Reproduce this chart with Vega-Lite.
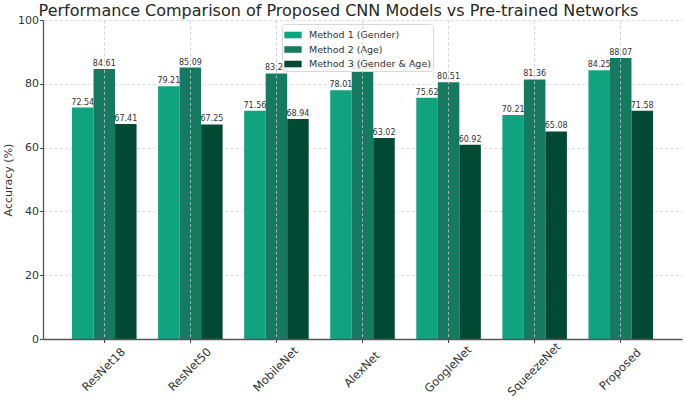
{
  "$schema": "https://vega.github.io/schema/vega-lite/v6.json",
  "autosize": {"type": "none"},
  "padding": {"left": 43, "top": 20, "right": 3, "bottom": 63},
  "width": 639,
  "height": 319,
  "background": "white",
  "title": {
    "text": "Performance Comparison of Proposed CNN Models vs Pre-trained Networks",
    "font": "DejaVu Sans",
    "fontSize": 16,
    "fontWeight": "normal",
    "color": "#262626",
    "anchor": "middle",
    "frame": "group",
    "offset": 1,
    "dx": -24,
    "dy": 6
  },
  "data": {
    "values": [
      {"model": "ResNet18", "method": "Method 1 (Gender)", "acc": 72.54},
      {"model": "ResNet18", "method": "Method 2 (Age)", "acc": 84.61},
      {"model": "ResNet18", "method": "Method 3 (Gender & Age)", "acc": 67.41},
      {"model": "ResNet50", "method": "Method 1 (Gender)", "acc": 79.21},
      {"model": "ResNet50", "method": "Method 2 (Age)", "acc": 85.09},
      {"model": "ResNet50", "method": "Method 3 (Gender & Age)", "acc": 67.25},
      {"model": "MobileNet", "method": "Method 1 (Gender)", "acc": 71.56},
      {"model": "MobileNet", "method": "Method 2 (Age)", "acc": 83.26},
      {"model": "MobileNet", "method": "Method 3 (Gender & Age)", "acc": 68.94},
      {"model": "AlexNet", "method": "Method 1 (Gender)", "acc": 78.01},
      {"model": "AlexNet", "method": "Method 2 (Age)", "acc": 83.76},
      {"model": "AlexNet", "method": "Method 3 (Gender & Age)", "acc": 63.02},
      {"model": "GoogleNet", "method": "Method 1 (Gender)", "acc": 75.62},
      {"model": "GoogleNet", "method": "Method 2 (Age)", "acc": 80.51},
      {"model": "GoogleNet", "method": "Method 3 (Gender & Age)", "acc": 60.92},
      {"model": "SqueezeNet", "method": "Method 1 (Gender)", "acc": 70.21},
      {"model": "SqueezeNet", "method": "Method 2 (Age)", "acc": 81.36},
      {"model": "SqueezeNet", "method": "Method 3 (Gender & Age)", "acc": 65.08},
      {"model": "Proposed", "method": "Method 1 (Gender)", "acc": 84.25},
      {"model": "Proposed", "method": "Method 2 (Age)", "acc": 88.07},
      {"model": "Proposed", "method": "Method 3 (Gender & Age)", "acc": 71.58}
    ]
  },
  "encoding": {
    "x": {
      "field": "model",
      "type": "nominal",
      "sort": null,
      "scale": {"paddingInner": 0.25, "paddingOuter": 0.337},
      "axis": {
        "title": null,
        "labelAngle": -45,
        "labelAlign": "center",
        "labelBaseline": "middle",
        "labelPadding": 27,
        "labelFont": "DejaVu Sans",
        "labelFontSize": 11.5,
        "labelColor": "#333333",
        "bandPosition": 0.5,
        "tickSize": 3.5,
        "tickColor": "#444444",
        "domainColor": "#555555",
        "domainWidth": 1.3,
        "grid": true,
        "gridColor": "#c8c8c8",
        "gridDash": [3, 2.5],
        "gridWidth": 0.8,
        "zindex": 1
      }
    },
    "xOffset": {"field": "method", "type": "nominal", "sort": null},
    "y": {
      "field": "acc",
      "type": "quantitative",
      "scale": {"domain": [0, 100]},
      "axis": {
        "title": "Accuracy (%)",
        "titleFont": "DejaVu Sans",
        "titleFontSize": 11,
        "titleFontWeight": "normal",
        "titleColor": "#333333",
        "titlePadding": 4,
        "values": [0, 20, 40, 60, 80, 100],
        "labelFont": "DejaVu Sans",
        "labelFontSize": 11,
        "labelColor": "#333333",
        "labelPadding": 1,
        "tickSize": 3.5,
        "tickColor": "#444444",
        "domainColor": "#555555",
        "domainWidth": 1.3,
        "grid": true,
        "gridColor": "#d4d4d4",
        "gridDash": [3, 2.5],
        "gridWidth": 0.8
      }
    }
  },
  "layer": [
    {
      "mark": {"type": "bar"},
      "encoding": {
        "color": {
          "field": "method",
          "type": "nominal",
          "sort": null,
          "scale": {"range": ["#10a37f", "#167a60", "#034a34"]},
          "legend": {
            "title": null,
            "orient": "none",
            "legendX": 239,
            "legendY": 4,
            "labelFont": "DejaVu Sans",
            "labelFontSize": 9.5,
            "labelColor": "#333333",
            "labelOffset": 7,
            "symbolType": "M-1,-0.38H1V0.38H-1Z",
            "symbolSize": 300,
            "symbolStrokeWidth": 0,
            "symbolOpacity": 1,
            "rowPadding": 0.5,
            "padding": 2,
            "fillColor": "rgba(255,255,255,0.8)",
            "strokeColor": "#d8d8d8",
            "cornerRadius": 3
          }
        }
      }
    },
    {
      "mark": {"type": "text", "baseline": "bottom", "dy": -1, "font": "DejaVu Sans", "fontSize": 8, "color": "#333333"},
      "encoding": {
        "text": {"field": "acc", "type": "quantitative", "format": ".2f"}
      }
    }
  ],
  "config": {"view": {"stroke": null}}
}
